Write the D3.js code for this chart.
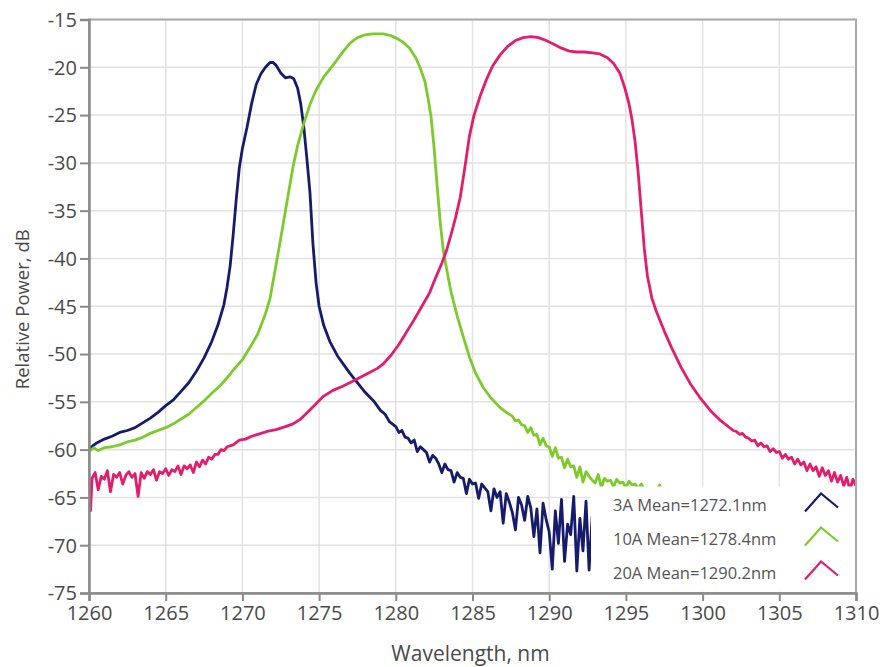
<!DOCTYPE html>
<html><head><meta charset="utf-8">
<script src="https://cdn.jsdelivr.net/npm/d3@7"></script>
<style>
html,body{margin:0;padding:0;background:#fff;}
svg{display:block;}
text{font-family:"Open Sans","Noto Sans",sans-serif;}
</style></head>
<body><svg id="chart" width="884" height="667"></svg>
<script>
// ---- data ----
const xTicks = [1260,1265,1270,1275,1280,1285,1290,1295,1300,1305,1310];
const yTicks = [-15,-20,-25,-30,-35,-40,-45,-50,-55,-60,-65,-70,-75];
const seriesNames = ["3A Mean=1272.1nm","10A Mean=1278.4nm","20A Mean=1290.2nm"];
const seriesColors = ["#161b6c","#7dca2c","#e31c6c"];
const xLabel = "Wavelength, nm";
const yLabel = "Relative Power, dB";

const data3A = [
[1260.0,-59.9],[1260.5,-59.3],[1261.0,-58.9],[1261.5,-58.6],[1262.0,-58.2],[1262.5,-58.0],[1263.0,-57.7],[1263.5,-57.2],
[1264.0,-56.7],[1264.5,-56.1],[1265.0,-55.4],[1265.5,-54.8],[1266.0,-53.9],[1266.5,-53.0],[1267.0,-51.8],[1267.5,-50.4],
[1268.0,-48.7],[1268.4,-47.0],[1268.8,-44.8],[1269.0,-43.0],[1269.2,-40.8],[1269.4,-37.5],[1269.6,-33.8],[1269.8,-30.5],
[1270.0,-28.5],[1270.3,-26.3],[1270.6,-23.8],[1270.9,-21.8],[1271.2,-20.7],[1271.5,-20.0],[1271.8,-19.5],[1272.0,-19.5],
[1272.2,-19.8],[1272.5,-20.6],[1272.8,-21.1],[1273.1,-21.0],[1273.35,-21.2],[1273.6,-22.2],[1273.8,-23.8],[1274.0,-26.2],
[1274.2,-29.5],[1274.4,-33.0],[1274.6,-38.5],[1274.8,-42.5],[1275.0,-45.0],[1275.3,-47.0],[1275.7,-48.7],[1276.2,-50.2],
[1277.0,-52.0],[1278.0,-54.0],[1278.6,-55.0],[1279.0,-55.9],[1279.3,-56.3],[1279.6,-57.1],
[1280.0,-57.6],[1280.2,-58.2],[1280.4,-58.0],[1280.6,-58.7],[1280.8,-58.8],[1281.0,-59.3],[1281.2,-59.0],[1281.4,-60.2],
[1281.6,-59.7],[1281.8,-60.0],[1282.0,-60.3],[1282.2,-61.3],[1282.4,-60.6],[1282.6,-60.9],[1282.8,-61.5],[1283.0,-62.4],
[1283.2,-61.5],[1283.4,-62.1],[1283.6,-62.2],[1283.8,-63.4],[1284.0,-62.4],[1284.2,-62.9],[1284.4,-63.0],[1284.6,-64.6],
[1284.8,-63.1],[1285.0,-63.6],[1285.2,-63.5],[1285.4,-65.1],[1285.6,-63.6],[1285.8,-64.0],[1286.0,-64.4],[1286.2,-66.4],
[1286.4,-64.1],[1286.6,-65.0],[1286.8,-64.4],[1287.0,-67.7],[1287.2,-64.6],[1287.4,-65.5],[1287.6,-66.6],[1287.8,-68.4],
[1288.0,-65.0],[1288.2,-65.8],[1288.4,-67.4],[1288.6,-64.9],[1288.8,-66.1],[1289.0,-69.1],[1289.2,-66.2],[1289.4,-70.8],
[1289.6,-65.6],[1289.8,-67.3],[1290.0,-68.6],[1290.2,-72.5],[1290.4,-66.4],[1290.6,-69.8],[1290.8,-65.2],[1291.0,-71.7],
[1291.2,-67.8],[1291.4,-68.9],[1291.6,-64.9],[1291.8,-72.7],[1292.0,-67.2],[1292.2,-70.6],[1292.4,-65.4],[1292.6,-72.6],
[1292.8,-67.0],[1293.2,-68.5],[1294.0,-69.5],[1296.0,-70.5]
];

const data10A = [
[1260.0,-60.2],[1260.3,-59.8],[1260.6,-60.1],[1261.0,-59.8],[1261.5,-59.7],[1262.0,-59.5],[1262.5,-59.2],[1263.0,-59.0],
[1263.5,-58.7],[1264.0,-58.3],[1264.5,-58.0],[1265.0,-57.7],[1265.5,-57.3],[1266.0,-56.8],[1266.5,-56.3],[1267.0,-55.6],
[1267.5,-54.9],[1268.0,-54.1],[1268.5,-53.4],[1269.0,-52.5],[1269.5,-51.5],[1270.0,-50.6],[1270.5,-49.3],[1271.0,-47.9],
[1271.5,-45.8],[1271.8,-44.2],[1272.1,-41.5],[1272.4,-38.8],[1272.7,-36.0],[1273.0,-33.2],[1273.3,-30.4],[1273.6,-28.2],
[1274.0,-25.9],[1274.4,-23.9],[1274.8,-22.4],[1275.3,-21.0],[1275.9,-19.8],[1276.5,-18.5],[1277.0,-17.5],[1277.5,-16.9],
[1278.0,-16.6],[1278.5,-16.5],[1279.2,-16.5],[1279.7,-16.7],[1280.1,-17.0],[1280.5,-17.4],[1280.9,-18.0],[1281.3,-19.0],
[1281.6,-20.1],[1281.9,-21.5],[1282.1,-23.2],[1282.3,-25.2],[1282.5,-28.5],[1282.7,-32.5],[1282.9,-36.3],[1283.1,-39.2],
[1283.3,-41.0],[1283.6,-43.5],[1284.0,-46.0],[1284.4,-48.2],[1284.8,-50.3],[1285.2,-52.0],[1285.7,-53.5],[1286.2,-54.6],
[1286.8,-55.6],[1287.2,-56.1],
[1287.6,-56.5],[1287.8,-57.0],[1288.0,-56.9],[1288.2,-57.4],[1288.4,-57.5],[1288.6,-58.2],[1288.8,-57.7],[1289.0,-58.5],
[1289.2,-58.4],[1289.4,-59.5],[1289.6,-58.8],[1289.8,-59.6],[1290.0,-59.7],[1290.2,-60.7],[1290.4,-59.8],[1290.6,-60.9],
[1290.8,-60.8],[1291.0,-61.9],[1291.2,-61.0],[1291.4,-61.8],[1291.6,-61.7],[1291.8,-62.9],[1292.0,-61.8],[1292.2,-63.4],
[1292.4,-62.3],[1292.6,-62.8],[1292.8,-63.2],[1293.0,-63.5],[1293.2,-62.6],[1293.4,-64.0],[1293.6,-63.0],[1293.8,-63.3],
[1294.0,-63.2],[1294.2,-63.9],[1294.4,-63.1],[1294.6,-63.5],[1294.8,-63.4],[1295.0,-64.0],[1295.2,-63.3],[1295.4,-63.7],
[1295.6,-63.6],[1295.8,-64.1],[1296.0,-63.6],[1296.2,-64.2],[1296.4,-64.0],[1296.6,-64.3],[1296.8,-64.1],[1297.0,-64.4],
[1297.2,-63.7],[1297.4,-64.5],[1297.6,-64.2],[1298.0,-64.6],[1299.0,-64.5],[1300.0,-64.8],[1302.0,-64.9],[1305.0,-65.0],
[1308.0,-65.1],[1310.0,-65.2]
];

const data20A = [
[1260.0,-62.8],[1260.1,-66.4],[1260.2,-63.0],[1260.4,-62.4],[1260.6,-64.2],[1260.8,-62.8],[1261.0,-63.1],[1261.2,-62.2],
[1261.4,-64.4],[1261.6,-62.6],[1261.8,-62.9],[1262.0,-62.4],[1262.2,-63.6],[1262.4,-62.7],[1262.6,-62.3],[1262.8,-62.9],
[1263.0,-62.5],[1263.2,-64.9],[1263.4,-62.4],[1263.6,-63.0],[1263.8,-62.3],[1264.0,-62.6],[1264.2,-62.1],[1264.4,-63.2],
[1264.6,-62.3],[1264.8,-62.5],[1265.0,-62.0],[1265.2,-62.7],[1265.4,-62.1],[1265.6,-62.3],[1265.8,-61.7],[1266.0,-62.6],
[1266.2,-61.7],[1266.4,-62.0],[1266.6,-61.6],[1266.8,-62.4],[1267.0,-61.3],[1267.2,-61.8],[1267.4,-61.1],[1267.6,-61.5],
[1267.8,-60.8],[1268.0,-61.0],[1268.2,-60.5],[1268.4,-60.5],[1268.6,-60.0],[1268.8,-60.1],[1269.0,-59.7],[1269.4,-59.5],
[1269.8,-59.0],[1270.2,-58.9],[1270.6,-58.6],[1271.0,-58.4],[1271.6,-58.1],[1272.2,-57.9],[1272.8,-57.6],[1273.3,-57.3],
[1273.8,-56.8],[1274.3,-56.0],[1274.8,-55.2],[1275.3,-54.4],[1275.9,-53.8],[1276.5,-53.4],[1277.0,-53.0],[1277.6,-52.5],
[1278.2,-52.0],[1278.8,-51.5],[1279.2,-51.0],[1279.7,-50.1],[1280.2,-49.0],[1280.7,-47.7],[1281.2,-46.4],[1281.7,-45.0],
[1282.2,-43.6],[1282.6,-42.0],[1283.0,-40.5],[1283.3,-39.2],[1283.6,-37.5],[1283.9,-35.7],[1284.2,-33.6],[1284.5,-30.5],
[1284.8,-27.2],[1285.1,-25.0],[1285.5,-23.0],[1285.9,-21.3],[1286.3,-19.9],[1286.8,-18.7],[1287.3,-17.8],[1287.8,-17.2],
[1288.3,-16.9],[1288.8,-16.8],[1289.3,-16.9],[1289.8,-17.2],[1290.3,-17.6],[1290.8,-18.0],[1291.3,-18.3],[1291.8,-18.4],
[1292.3,-18.4],[1292.8,-18.5],[1293.3,-18.6],[1293.8,-19.0],[1294.2,-19.6],[1294.6,-20.6],[1294.9,-22.0],[1295.2,-23.8],
[1295.4,-25.5],[1295.6,-27.8],[1295.8,-31.0],[1296.0,-35.0],[1296.2,-39.0],[1296.4,-41.8],[1296.7,-44.2],[1297.0,-45.6],
[1297.5,-47.6],[1298.0,-49.4],[1298.6,-51.4],[1299.2,-53.1],[1299.8,-54.5],[1300.5,-55.9],[1301.2,-57.0],[1302.0,-58.0],
[1302.2,-58.1],[1302.4,-58.4],[1302.6,-58.3],[1302.8,-58.7],[1303.0,-58.8],[1303.2,-59.1],[1303.4,-59.0],[1303.6,-59.6],
[1303.8,-59.3],[1304.0,-59.7],[1304.2,-59.6],[1304.4,-60.2],[1304.6,-59.9],[1304.8,-60.3],[1305.0,-60.2],[1305.2,-60.9],
[1305.4,-60.5],[1305.6,-61.0],[1305.8,-60.8],[1306.0,-61.5],[1306.2,-61.0],[1306.4,-61.6],[1306.6,-61.3],[1306.8,-62.2],
[1307.0,-61.5],[1307.2,-62.2],[1307.4,-61.8],[1307.6,-62.8],[1307.8,-61.9],[1308.0,-62.7],[1308.2,-62.2],[1308.4,-63.3],
[1308.6,-62.4],[1308.8,-63.4],[1309.0,-62.7],[1309.2,-63.8],[1309.4,-62.9],[1309.6,-64.2],[1309.8,-63.1],[1310.0,-63.8]
];

const allSeries = [data3A, data10A, data20A];

// ---- chart ----
const svg = d3.select("#chart");
const W = 884, H = 667;
const m = {left: 89, right: 884-856, top: 19.5, bottom: 667-593};
const iw = W - m.left - m.right, ih = H - m.top - m.bottom;

const x = d3.scaleLinear().domain([1260,1310]).range([m.left, m.left+iw]);
const y = d3.scaleLinear().domain([-75,-15]).range([m.top+ih, m.top]);

const defs = svg.append("defs");
defs.append("clipPath").attr("id","plotclip").append("rect")
  .attr("x", m.left).attr("y", m.top).attr("width", iw).attr("height", ih);

// grid
const grid = svg.append("g");
grid.selectAll("line.v").data(xTicks).join("line")
  .attr("x1", d=>x(d)).attr("x2", d=>x(d)).attr("y1", m.top).attr("y2", m.top+ih)
  .attr("stroke","#e2e2e2").attr("stroke-width",1.5);
grid.selectAll("line.h").data(yTicks).join("line")
  .attr("y1", d=>y(d)).attr("y2", d=>y(d)).attr("x1", m.left).attr("x2", m.left+iw)
  .attr("stroke","#e2e2e2").attr("stroke-width",1.5);

// lines
const line = d3.line().x(d=>x(d[0])).y(d=>y(d[1]));
const plot = svg.append("g").attr("clip-path","url(#plotclip)");
allSeries.forEach((s,i)=>{
  plot.append("path").datum(s).attr("d", line)
    .attr("fill","none").attr("stroke", seriesColors[i])
    .attr("stroke-width", 2.8).attr("stroke-linejoin","round");
});

// frame
svg.append("rect").attr("x", m.left).attr("y", m.top).attr("width", iw).attr("height", ih)
  .attr("fill","none").attr("stroke","#a8a8a8").attr("stroke-width",2);

// axes
const xAxis = d3.axisBottom(x).tickValues(xTicks).tickSize(8).tickPadding(5).tickFormat(d3.format("d"));
const yAxis = d3.axisLeft(y).tickValues(yTicks).tickSize(9).tickPadding(3).tickFormat(d=>d3.format("d")(d).replace("−","-"));
const gx = svg.append("g").attr("transform",`translate(0,${m.top+ih})`).call(xAxis);
const gy = svg.append("g").attr("transform",`translate(${m.left},0)`).call(yAxis);
[gx,gy].forEach(g=>{
  g.select(".domain").attr("stroke","#8a8a8a").attr("stroke-width",2.5);
  g.selectAll(".tick line").attr("stroke","#8a8a8a").attr("stroke-width",2);
  g.selectAll(".tick text").attr("fill","#4a4a4a").style("font-size","20px")
   .style("font-family",'"Open Sans","Noto Sans",sans-serif');
});
gy.selectAll(".tick text").attr("dy","0.34em");

// axis titles
svg.append("text").attr("x", m.left+iw/2 - 2).attr("y", 661).attr("text-anchor","middle")
  .attr("fill","#4a4a4a").style("font-size","21px").text(xLabel);
svg.append("text").attr("transform",`translate(29,${m.top+ih/2 + 3}) rotate(-90)`).attr("text-anchor","middle")
  .attr("fill","#4a4a4a").style("font-size","18.5px").text(yLabel);

// legend (opaque box in the lower right of plot)
const lg = svg.append("g");
lg.append("rect").attr("x", 591).attr("y", 486.5).attr("width", 856-591-1).attr("height", 593-486.5-1.5)
  .attr("fill","#fff");
seriesNames.forEach((n,i)=>{
  const by = 510.5 + i*34;
  lg.append("text").attr("x", 613).attr("y", by).attr("fill","#555")
    .style("font-size","16.5px").text(n);
  lg.append("path").attr("d", `M805,${by+1} L821,${by-17} L838,${by-3}`)
    .attr("fill","none").attr("stroke", seriesColors[i]).attr("stroke-width",2.2);
});
</script></body></html>
